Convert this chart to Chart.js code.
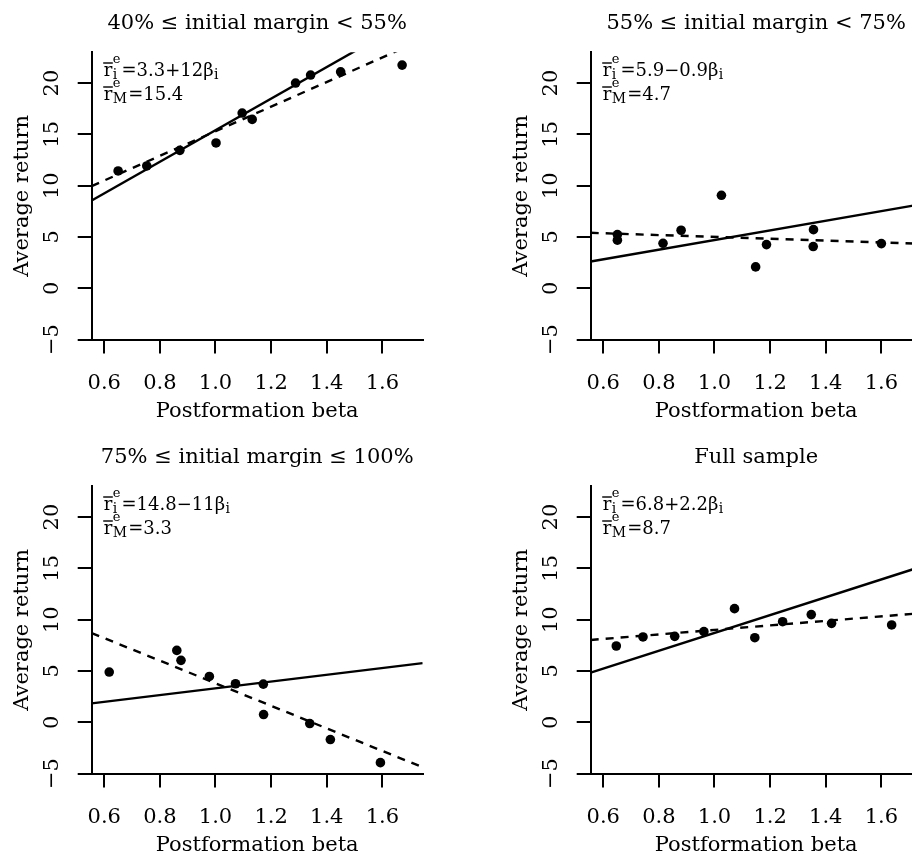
<!DOCTYPE html>
<html>
<head>
<meta charset="utf-8">
<title>Average return and postformation beta by initial margin</title>
<script src="https://cdn.jsdelivr.net/npm/chart.js@4.4.1/dist/chart.umd.min.js"></script>
<style>
  html, body { margin: 0; padding: 0; background: #fff; overflow: hidden; }
  #wrap { position: relative; width: 912px; height: 859px; overflow: hidden; }
  .panel { position: absolute; width: 499px; height: 434px; }
</style>
</head>
<body>
<div id="wrap">
  <div class="panel" style="left:0;top:0"><canvas id="c0" width="499" height="434"></canvas></div>
  <div class="panel" style="left:499px;top:0"><canvas id="c1" width="499" height="434"></canvas></div>
  <div class="panel" style="left:0;top:434px"><canvas id="c2" width="499" height="434"></canvas></div>
  <div class="panel" style="left:499px;top:434px"><canvas id="c3" width="499" height="434"></canvas></div>
</div>
<script>
var panelTitles = [
  "40% \u2264 initial margin < 55%",
  "55% \u2264 initial margin < 75%",
  "75% \u2264 initial margin \u2264 100%",
  "Full sample"
];
var betaTicks = [0.6, 0.8, 1.0, 1.2, 1.4, 1.6];
var returnTicks = [-5, 0, 5, 10, 15, 20];
var betaMin = 0.555, betaMax = 1.745; // axis range
var returnMin = -5, returnMax = 23;

// portfolios: postformation beta and average return
var beta40to55 = [0.650, 0.753, 0.872, 1.002, 1.096, 1.132, 1.288, 1.342, 1.450, 1.671];
var ret40to55  = [11.43, 11.92, 13.44, 14.16, 17.08, 16.46, 20.00, 20.78, 21.10, 21.75];
var beta55to75 = [0.651, 0.651, 0.815, 0.880, 1.025, 1.148, 1.187, 1.356, 1.355, 1.600];
var ret55to75  = [5.23, 4.68, 4.38, 5.65, 9.06, 2.08, 4.25, 5.71, 4.06, 4.35];
var beta75to100 = [0.618, 0.861, 0.876, 0.978, 1.072, 1.172, 1.173, 1.339, 1.413, 1.593];
var ret75to100  = [4.89, 7.00, 6.03, 4.46, 3.75, 3.71, 0.75, -0.13, -1.69, -3.94];
var betaFull = [0.647, 0.743, 0.857, 0.962, 1.072, 1.145, 1.245, 1.348, 1.421, 1.637];
var retFull  = [7.43, 8.31, 8.37, 8.83, 11.07, 8.24, 9.80, 10.49, 9.64, 9.48];

// fitted line r = a + b*beta (dashed) and market line r = rM*beta (solid)
var fitIntercepts = [3.3, 5.9, 14.8, 6.8];
var fitSlopes = [12, -0.9, -11, 2.2];
var marketReturns = [15.4, 4.7, 3.3, 8.7];

var panelBetas = [beta40to55, beta55to75, beta75to100, betaFull];
var panelReturns = [ret40to55, ret55to75, ret75to100, retFull];

Chart.defaults.font.family = "'DejaVu Serif', serif";
Chart.defaults.font.size = 21;
Chart.defaults.color = "#000";

var minus = "\u2212";

function drawRbar(ctx, x, base, sub, rest, tail) {
  ctx.save();
  ctx.fillStyle = "#000";
  ctx.textAlign = "left";
  ctx.textBaseline = "alphabetic";
  ctx.font = "18px 'DejaVu Serif'";
  var rw = ctx.measureText("r").width;
  ctx.fillText("r", x, base);
  ctx.fillRect(x - 0.5, base - 14, rw + 1, 1.4); // bar over r
  ctx.font = "13px 'DejaVu Serif'";
  var ew = ctx.measureText("e").width;
  ctx.fillText("e", x + rw + 0.5, base - 13);
  ctx.font = "14px 'DejaVu Serif'";
  var sw = ctx.measureText(sub).width;
  ctx.fillText(sub, x + rw + 0.5, base + 3);
  var cx = x + rw + 0.5 + Math.max(ew, sw) + 1;
  ctx.font = "18px 'DejaVu Serif'";
  ctx.fillText(rest, cx, base);
  if (tail) {
    cx += ctx.measureText(rest).width;
    ctx.font = "14px 'DejaVu Serif'";
    ctx.fillText(tail, cx + 0.5, base + 3);
  }
  ctx.restore();
}

var formulaPlugin = {
  id: "formula",
  afterDatasetsDraw: function(chart, args, opts) {
    var area = chart.chartArea;
    var x0 = area.left + 12;
    drawRbar(chart.ctx, x0, area.top + 24, "i", opts.fit, "i");
    drawRbar(chart.ctx, x0, area.top + 48, "M", opts.market);
  }
};

function axisGrid() {
  return { drawOnChartArea: false, drawTicks: true, tickLength: 14, color: "#000", lineWidth: 2 };
}

function makePanel(k) {
  var a = fitIntercepts[k], b = fitSlopes[k], m = marketReturns[k];
  var points = panelBetas[k].map(function(x, i) { return { x: x, y: panelReturns[k][i] }; });
  var fitLine = [{ x: betaMin, y: a + b * betaMin }, { x: betaMax, y: a + b * betaMax }];
  var marketLine = [{ x: betaMin, y: m * betaMin }, { x: betaMax, y: m * betaMax }];
  var fitText = "=" + a + (b < 0 ? minus : "+") + Math.abs(b) + "\u03b2";

  return new Chart(document.getElementById("c" + k), {
    type: "scatter",
    data: {
      datasets: [
        { data: points, pointRadius: 4.8, pointBackgroundColor: "#000", pointBorderColor: "#000", pointBorderWidth: 0, showLine: false },
        { data: fitLine, showLine: true, pointRadius: 0, borderColor: "#000", borderWidth: 2.4, borderDash: [8, 7] },
        { data: marketLine, showLine: true, pointRadius: 0, borderColor: "#000", borderWidth: 2.4 }
      ]
    },
    options: {
      responsive: false,
      animation: false,
      events: [],
      layout: { padding: { left: 0, right: 76.3, top: 0, bottom: 0 } },
      plugins: {
        legend: { display: false },
        tooltip: { enabled: false },
        title: {
          display: true, text: panelTitles[k], fullSize: false, color: "#000",
          font: { size: 21, weight: "normal" }, padding: { top: 11.4, bottom: 15.7 }
        },
        formula: { fit: fitText, market: "=" + m }
      },
      scales: {
        x: {
          type: "linear", min: betaMin, max: betaMax,
          afterBuildTicks: function(s) { s.ticks = betaTicks.map(function(v) { return { value: v }; }); },
          afterFit: function(s) { s.height = 94.5; },
          ticks: { callback: function(v) { return v.toFixed(1); }, padding: 17, maxRotation: 0, autoSkip: false },
          grid: axisGrid(),
          border: { display: true, color: "#000", width: 2 },
          title: { display: true, text: "Postformation beta", padding: { top: 0, bottom: 10 } }
        },
        y: {
          type: "linear", min: returnMin, max: returnMax,
          afterBuildTicks: function(s) { s.ticks = returnTicks.map(function(v) { return { value: v }; }); },
          afterFit: function(s) { s.width = 91.7; },
          ticks: {
            callback: function(v) { return v < 0 ? minus + Math.abs(v) : String(v); },
            minRotation: 90, maxRotation: 90, crossAlign: "center", padding: 10, autoSkip: false
          },
          grid: axisGrid(),
          border: { display: true, color: "#000", width: 2 },
          title: { display: true, text: "Average return", padding: { top: 9.5, bottom: 0 } }
        }
      }
    },
    plugins: [formulaPlugin]
  });
}

for (var k = 0; k < 4; k++) makePanel(k);
</script>
</body>
</html>
